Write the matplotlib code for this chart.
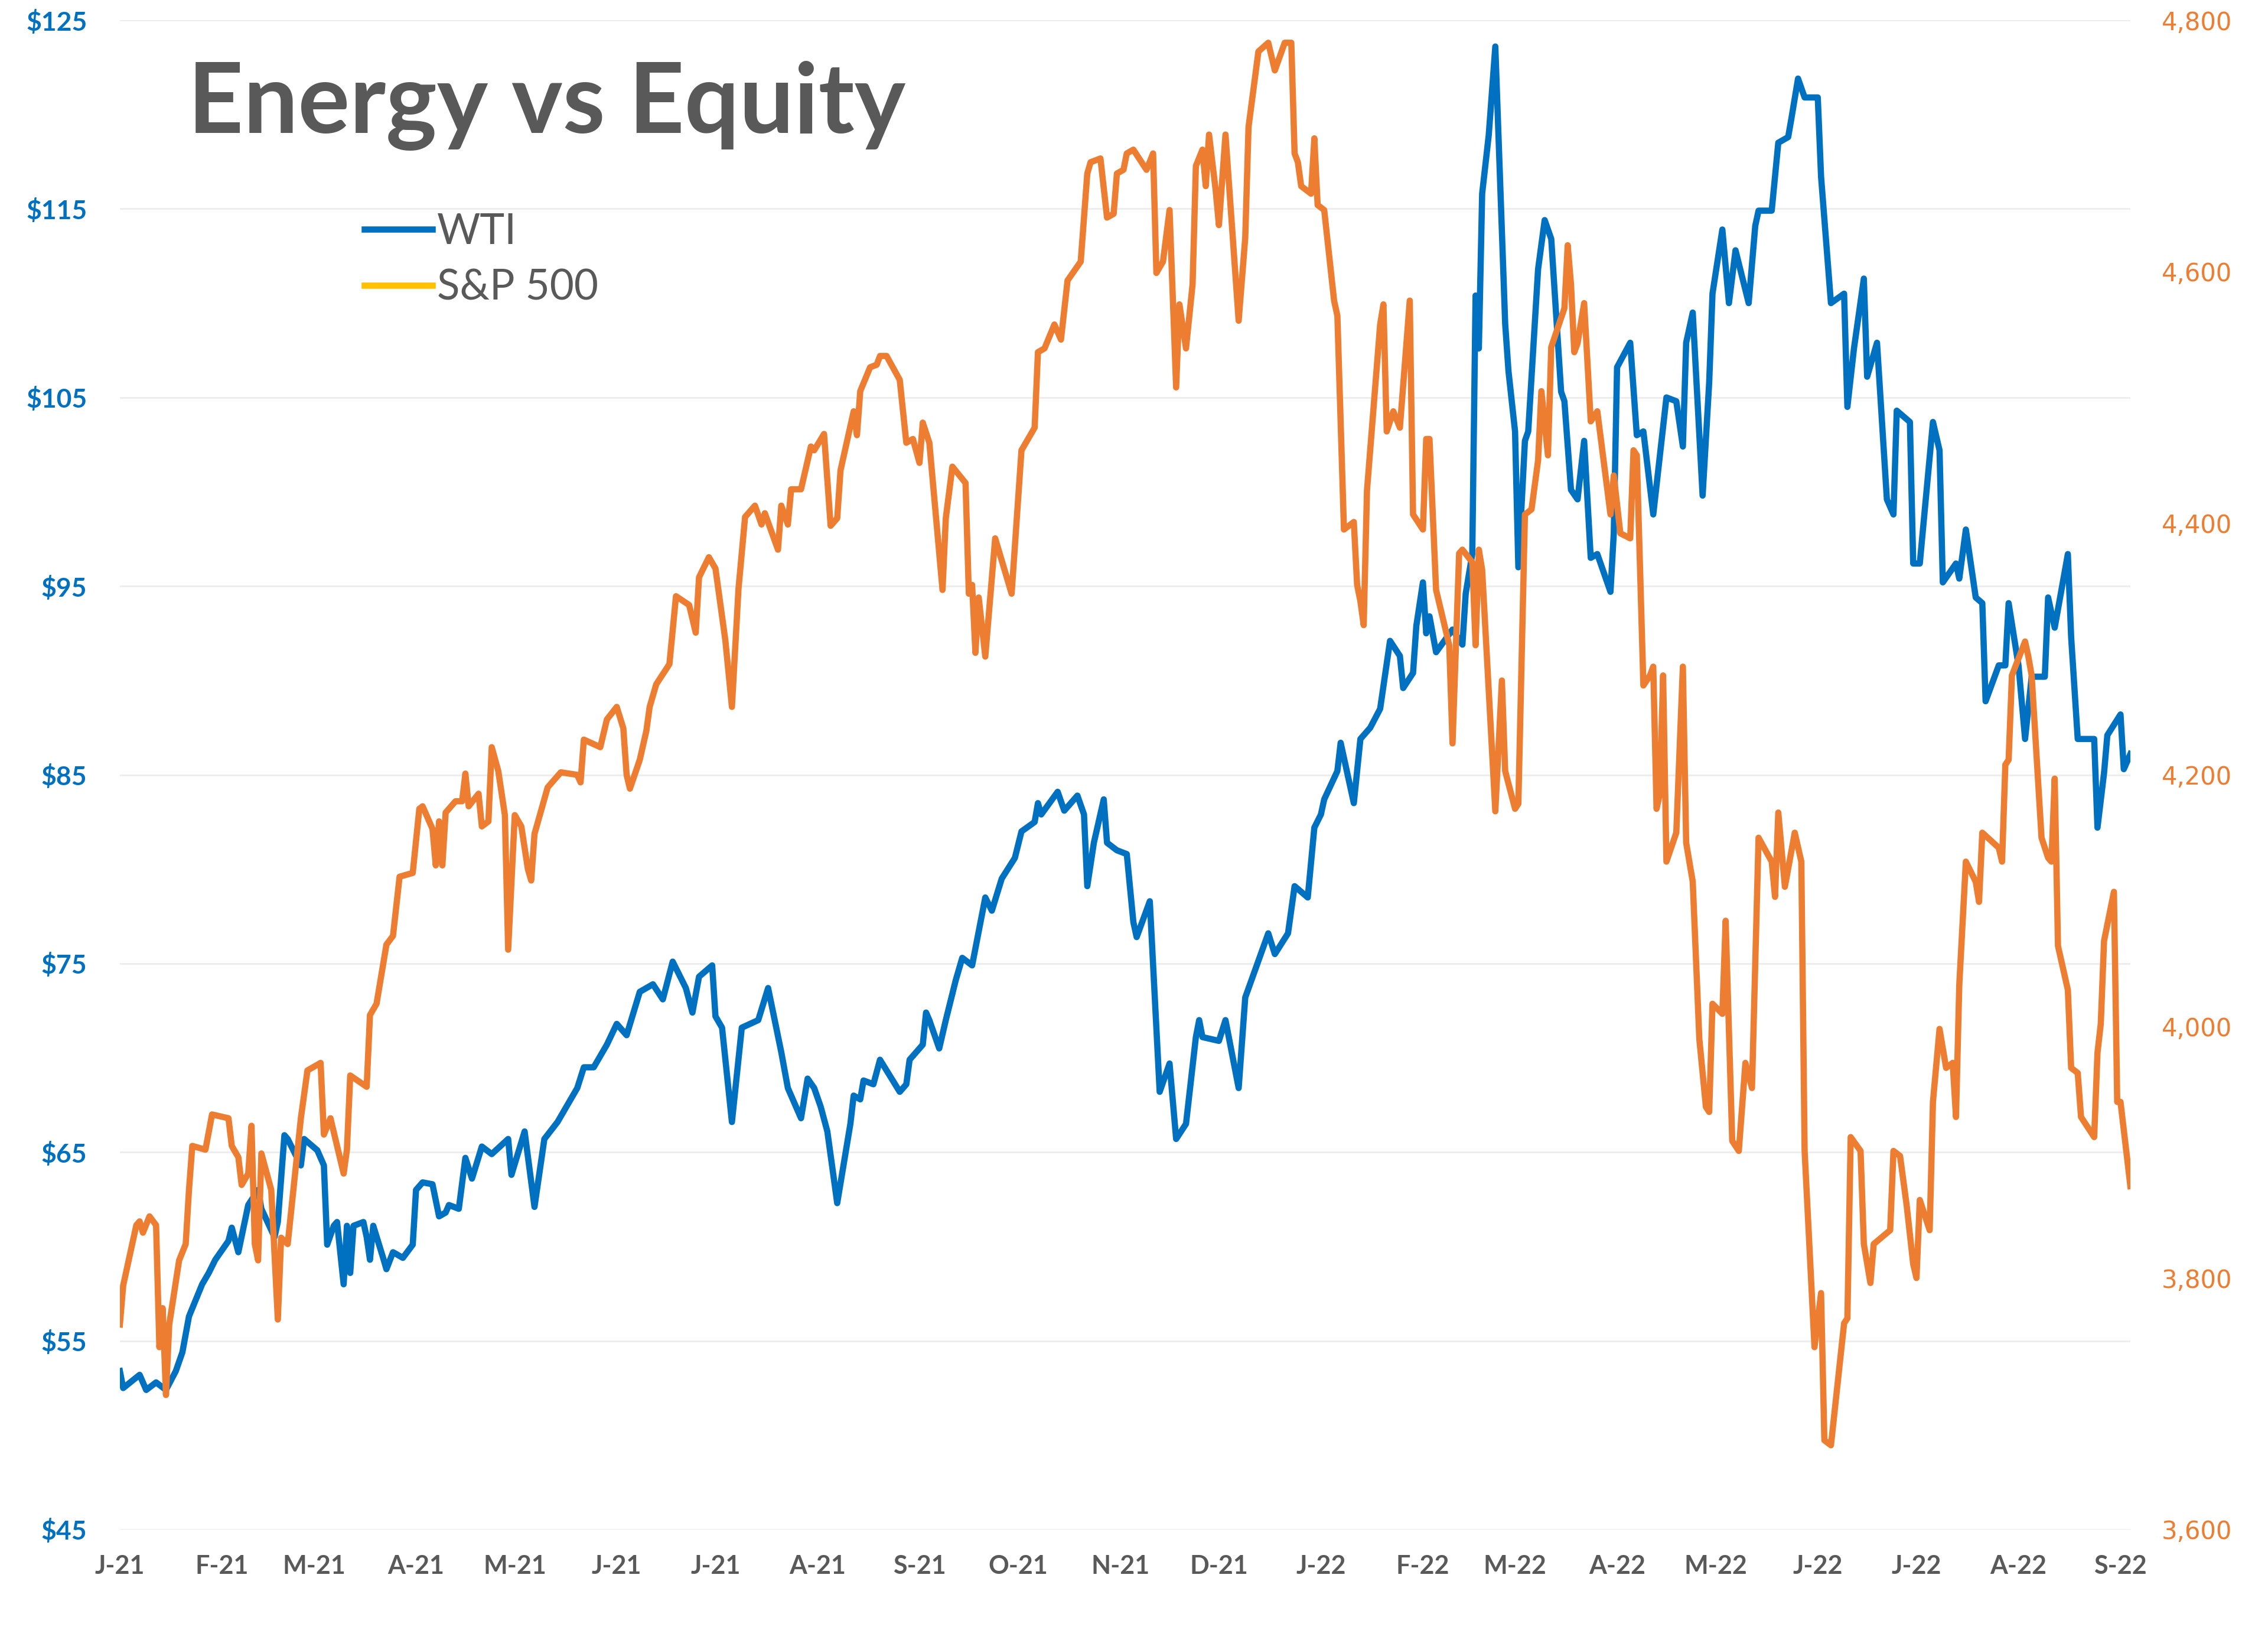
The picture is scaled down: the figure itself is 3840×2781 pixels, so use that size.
import matplotlib
matplotlib.use("Agg")
import matplotlib.pyplot as plt
from matplotlib.lines import Line2D
import pandas as pd

# ---------------- data ----------------
START_DATE = "2021-01-01"   # day 0 of the day counts below

wti_day = [0, 1, 6, 8, 11, 14, 17, 19, 21, 25, 27, 29, 33, 34, 36, 39, 42, 43, 47, 48,
           50, 51, 55, 56, 60, 62, 63, 65, 66, 68, 69, 70, 71, 74, 75, 76, 77, 80, 81, 83,
           86, 89, 90, 92, 95, 97, 99, 100, 103, 105, 107, 110, 113, 118, 119, 123, 126, 129, 133, 139,
           141, 144, 148, 151, 154, 158, 162, 165, 168, 172, 174, 176, 180, 181, 183, 186, 189, 194, 197, 201,
           203, 207, 209, 211, 213, 215, 218, 222, 223, 225, 226, 229, 231, 237, 239, 240, 244, 245, 246, 249,
           251, 254, 256, 259, 263, 265, 268, 272, 274, 278, 279, 280, 285, 287, 291, 293, 294, 296, 299, 300,
           303, 306, 308, 309, 313, 316, 319, 321, 324, 327, 328, 329, 334, 336, 340, 342, 349, 351, 355, 357,
           361, 363, 365, 366, 370, 371, 375, 377, 380, 383, 386, 389, 390, 393, 394, 396, 397, 398, 400, 405,
           408, 409, 411, 412, 413, 414, 416, 418, 421, 422, 424, 425, 427, 428, 431, 433, 435, 438, 439, 441,
           443, 445, 447, 449, 453, 454, 455, 459, 461, 463, 466, 468, 470, 473, 475, 476, 478, 481, 483, 484,
           487, 489, 491, 495, 497, 498, 502, 504, 507, 508, 510, 512, 516, 517, 520, 524, 525, 527, 530, 531,
           534, 537, 539, 540, 544, 545, 547, 551, 553, 554, 558, 559, 561, 564, 566, 567, 571, 573, 574, 577,
           579, 581, 585, 586, 588, 592, 593, 595, 600, 601, 603, 604, 608, 609, 611]
wti_price = [53.4, 52.5, 53.2, 52.4, 52.8, 52.4, 53.4, 54.4, 56.3, 58.0, 58.6, 59.3, 60.3, 61.0, 59.7, 62.2, 63.0, 62.0, 60.5, 61.3,
             65.9, 65.7, 64.3, 65.7, 65.1, 64.3, 60.1, 61.1, 61.3, 58.0, 61.1, 58.6, 61.1, 61.3, 60.5, 59.3, 61.1, 59.4, 58.8, 59.7,
             59.4, 60.1, 63.0, 63.4, 63.3, 61.6, 61.8, 62.2, 62.0, 64.7, 63.6, 65.3, 64.9, 65.7, 63.8, 66.1, 62.1, 65.7, 66.6, 68.4,
             69.5, 69.5, 70.7, 71.8, 71.2, 73.5, 73.9, 73.1, 75.1, 73.7, 72.4, 74.3, 74.9, 72.2, 71.6, 66.6, 71.6, 72.0, 73.7, 70.3,
             68.4, 66.8, 68.9, 68.4, 67.4, 66.1, 62.3, 66.5, 68.0, 67.8, 68.8, 68.6, 69.9, 68.2, 68.6, 69.9, 70.7, 72.4, 72.0, 70.5,
             72.0, 74.1, 75.3, 74.9, 78.5, 77.8, 79.5, 80.6, 82.0, 82.5, 83.5, 82.9, 84.1, 83.1, 83.9, 82.9, 79.1, 81.4, 83.7, 81.4,
             81.0, 80.8, 77.2, 76.4, 78.3, 68.2, 69.7, 65.7, 66.5, 71.1, 72.0, 71.1, 70.9, 72.0, 68.4, 73.2, 76.6, 75.5, 76.6, 79.1,
             78.5, 82.2, 82.9, 83.7, 85.2, 86.7, 83.5, 86.9, 87.5, 88.5, 92.1, 91.3, 89.6, 90.4, 92.9, 95.2, 92.5, 93.4, 91.5, 92.7,
             91.9, 94.6, 96.7, 110.4, 107.6, 115.8, 118.9, 123.6, 108.9, 106.4, 103.2, 96.0, 102.7, 103.2, 111.8, 114.4, 113.4, 105.3, 104.8, 100.1,
             99.6, 102.7, 96.5, 96.7, 94.7, 97.8, 106.6, 107.9, 103.0, 103.2, 98.8, 101.9, 105.0, 104.8, 102.4, 107.9, 109.5, 99.8, 105.8, 110.5,
             113.9, 110.0, 112.8, 110.0, 114.1, 114.9, 114.9, 118.5, 118.8, 119.8, 121.9, 120.9, 120.9, 116.7, 110.0, 110.5, 104.5, 107.6, 111.3, 106.1,
             107.9, 99.6, 98.8, 104.3, 103.7, 96.2, 96.2, 103.7, 102.2, 95.2, 96.2, 95.4, 98.0, 94.4, 94.1, 88.9, 90.8, 90.8, 94.1, 90.8,
             86.9, 90.2, 90.2, 94.4, 92.8, 96.7, 92.3, 86.9, 86.9, 82.2, 85.1, 87.1, 88.2, 85.3, 86.1]

spx_day = [0, 1, 5, 6, 7, 9, 11, 12, 13, 14, 15, 18, 20, 21, 22, 26, 28, 33, 34, 36,
           37, 39, 40, 41, 42, 43, 46, 48, 49, 51, 55, 57, 61, 62, 64, 68, 69, 70, 75, 76,
           78, 81, 83, 85, 89, 91, 92, 95, 96, 97, 98, 99, 102, 104, 105, 106, 109, 110, 112, 113,
           115, 117, 118, 120, 122, 124, 125, 126, 130, 134, 139, 140, 141, 146, 148, 151, 153, 154, 155, 158,
           160, 161, 163, 167, 169, 173, 175, 176, 179, 181, 184, 186, 188, 190, 193, 195, 196, 200, 201, 203,
           204, 207, 210, 211, 214, 216, 218, 219, 223, 224, 225, 228, 230, 231, 233, 237, 239, 241, 243, 244,
           246, 250, 251, 253, 257, 258, 259, 260, 261, 263, 266, 271, 274, 278, 279, 281, 284, 286, 288, 292,
           294, 295, 298, 300, 302, 303, 305, 306, 308, 312, 314, 315, 317, 319, 321, 322, 324, 326, 327, 329,
           330, 331, 333, 334, 336, 340, 342, 343, 346, 349, 351, 354, 356, 357, 358, 359, 362, 363, 364, 366,
           369, 370, 372, 375, 376, 377, 378, 379, 383, 384, 385, 387, 389, 392, 393, 396, 397, 398, 400, 404,
           405, 407, 408, 411, 412, 413, 414, 418, 420, 421, 424, 425, 427, 429, 431, 432, 434, 435, 439, 440,
           441, 442, 443, 445, 447, 449, 453, 454, 456, 459, 460, 461, 463, 465, 466, 467, 468, 469, 470, 473,
           475, 476, 478, 480, 482, 483, 484, 487, 488, 490, 492, 494, 496, 498, 502, 503, 504, 506, 509, 511,
           512, 515, 517, 518, 520, 524, 525, 526, 529, 530, 532, 533, 538, 539, 541, 543, 545, 546, 547, 550,
           551, 553, 555, 557, 558, 559, 561, 564, 565, 566, 571, 572, 573, 574, 575, 579, 580, 581, 584, 586,
           587, 588, 589, 592, 593, 595, 596, 600, 601, 602, 603, 606, 607, 608, 611]
spx_level = [3763, 3794, 3842, 3845, 3836, 3849, 3842, 3745, 3776, 3707, 3763, 3814, 3827, 3870, 3905, 3902, 3930, 3927, 3905, 3896,
             3874, 3883, 3921, 3827, 3814, 3899, 3870, 3767, 3832, 3827, 3927, 3965, 3971, 3914, 3927, 3883, 3902, 3961, 3952, 4009,
             4018, 4065, 4072, 4119, 4122, 4173, 4175, 4157, 4128, 4163, 4128, 4170, 4179, 4179, 4201, 4175, 4185, 4159, 4163, 4222,
             4203, 4168, 4061, 4168, 4159, 4125, 4116, 4153, 4190, 4202, 4200, 4194, 4228, 4222, 4244, 4254, 4237, 4200, 4189, 4212,
             4235, 4254, 4272, 4288, 4342, 4335, 4313, 4357, 4373, 4364, 4307, 4254, 4348, 4405, 4414, 4399, 4408, 4379, 4414, 4399,
             4427, 4427, 4461, 4458, 4471, 4398, 4404, 4442, 4489, 4470, 4505, 4524, 4526, 4533, 4533, 4514, 4464, 4467, 4448, 4480,
             4464, 4347, 4404, 4445, 4432, 4344, 4351, 4297, 4341, 4294, 4388, 4344, 4458, 4476, 4536, 4539, 4558, 4546, 4593, 4608,
             4678, 4687, 4690, 4643, 4646, 4678, 4681, 4694, 4697, 4681, 4694, 4599, 4608, 4649, 4508, 4574, 4539, 4590, 4684, 4697,
             4668, 4709, 4665, 4637, 4709, 4561, 4627, 4715, 4775, 4782, 4760, 4782, 4782, 4694, 4687, 4668, 4662, 4706, 4653, 4649,
             4577, 4565, 4395, 4401, 4351, 4338, 4319, 4426, 4558, 4574, 4473, 4489, 4476, 4577, 4407, 4395, 4467, 4467, 4347, 4303,
             4225, 4376, 4379, 4369, 4303, 4379, 4363, 4171, 4275, 4203, 4173, 4177, 4407, 4411, 4450, 4505, 4454, 4540, 4571, 4621,
             4590, 4536, 4543, 4575, 4481, 4489, 4407, 4438, 4392, 4388, 4458, 4454, 4271, 4279, 4286, 4173, 4185, 4279, 4131, 4154,
             4286, 4146, 4115, 3990, 3936, 3932, 4018, 4010, 4084, 3909, 3901, 3971, 3951, 4150, 4131, 4103, 4170, 4111, 4154, 4131,
             3901, 3745, 3788, 3671, 3667, 3764, 3768, 3912, 3901, 3827, 3796, 3827, 3838, 3901, 3897, 3858, 3811, 3800, 3862, 3838,
             3940, 3998, 3967, 3971, 3928, 4033, 4131, 4115, 4099, 4154, 4142, 4131, 4208, 4212, 4279, 4306, 4294, 4279, 4150, 4134,
             4131, 4197, 4064, 4029, 3967, 3963, 3928, 3912, 3979, 4002, 4068, 4107, 3940, 3940, 3873]

month_labels = ["J-21", "F-21", "M-21", "A-21", "M-21", "J-21", "J-21", "A-21", "S-21", "O-21",
                "N-21", "D-21", "J-22", "F-22", "M-22", "A-22", "M-22", "J-22", "J-22", "A-22", "S-22"]
left_ticks = [45, 55, 65, 75, 85, 95, 105, 115, 125]
right_ticks = [3600, 3800, 4000, 4200, 4400, 4600, 4800]
x_end_day = 611

title_text = "Energy vs Equity"
series_names = ["WTI", "S&P 500"]

# ---------------- styling ----------------
BLUE = "#0070C0"
ORANGE = "#ED7D31"
YELLOW = "#FFC000"
GRAY = "#595959"
GRID = "#EDEDED"

base = pd.Timestamp(START_DATE)
wti_dates = base + pd.to_timedelta(wti_day, unit="D")
spx_dates = base + pd.to_timedelta(spx_day, unit="D")
month_ticks = pd.date_range(START_DATE, periods=len(month_labels), freq="MS")

fig = plt.figure(figsize=(19.2, 13.905), dpi=200)
ax = fig.add_axes([0.05286, 0.06904, 0.88646, 0.91873])
ax2 = ax.twinx()

ax.plot(wti_dates, wti_price, color=BLUE, lw=3.8, solid_joinstyle="round", zorder=3)
ax2.plot(spx_dates, spx_level, color=ORANGE, lw=3.8, solid_joinstyle="round", zorder=3)

ax.set_xlim(base, base + pd.Timedelta(days=x_end_day))
ax.set_ylim(left_ticks[0], left_ticks[-1])
ax2.set_ylim(right_ticks[0], right_ticks[-1])

ax.set_yticks(left_ticks)
ax.set_yticklabels([f"${v}" for v in left_ticks])
ax2.set_yticks(right_ticks)
ax2.set_yticklabels([f"{v:,}" for v in right_ticks])
ax.set_xticks(month_ticks)
ax.set_xticklabels(month_labels)

ax.grid(axis="y", color=GRID, lw=1.1, zorder=0)
ax.set_axisbelow(True)
for a in (ax, ax2):
    for s in a.spines.values():
        s.set_visible(False)

ax.tick_params(axis="y", length=0, pad=20, labelcolor=BLUE)
ax.tick_params(axis="x", length=0, pad=15, labelcolor=GRAY)
ax2.tick_params(axis="y", length=0, pad=19, labelcolor=ORANGE)
for t in ax.get_yticklabels():
    t.set_fontfamily("Lato"); t.set_fontweight("bold"); t.set_fontsize(16)
for t in ax.get_xticklabels():
    t.set_fontfamily("Lato"); t.set_fontweight("bold"); t.set_fontsize(15.5)
for t in ax2.get_yticklabels():
    t.set_fontfamily("DejaVu Sans"); t.set_fontsize(15)

fig.text(0.0828, 0.919, title_text, fontfamily="Lato", fontweight="bold",
         fontsize=59, color=GRAY, va="baseline", ha="left")

handles = [Line2D([], [], color=BLUE, lw=3.8), Line2D([], [], color=YELLOW, lw=3.8)]
leg = ax.legend(handles, series_names, loc="upper left", bbox_to_anchor=(0.1607, 0.8705),
                bbox_transform=fig.transFigure, frameon=False, borderpad=0, borderaxespad=0,
                handlelength=1.62, handletextpad=0.12, labelspacing=0.42,
                prop={"family": "Lato", "size": 25.5})
for t in leg.get_texts():
    t.set_color(GRAY)

fig.savefig("out.png", dpi=200)
